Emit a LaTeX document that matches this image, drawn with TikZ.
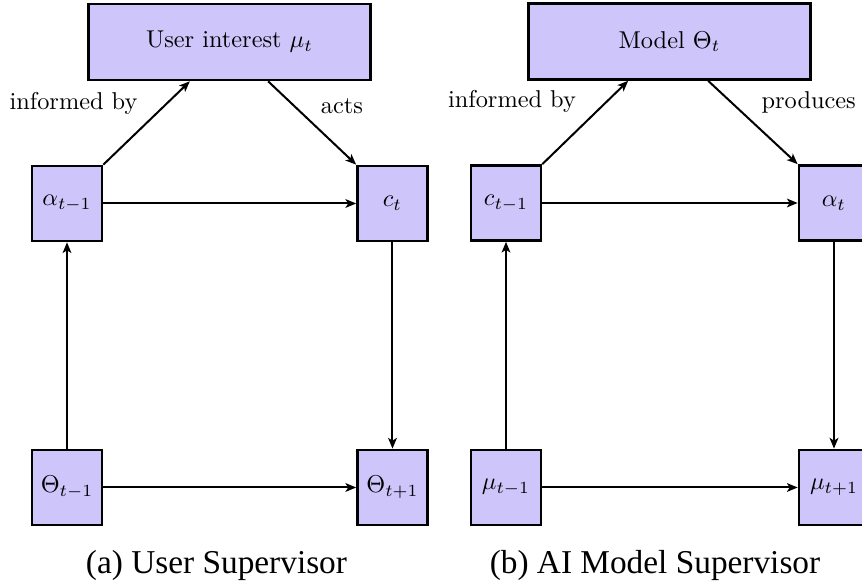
\documentclass[tikz,border=0pt]{standalone}
\usepackage{fontspec}
\usepackage{graphicx}
\newfontfamily\capfont{Liberation Serif}
\usetikzlibrary{arrows.meta}
\definecolor{boxfill}{RGB}{206,198,250}
\newcommand{\dtxt}[1]{\scalebox{0.73}{#1}}
\begin{document}
\begin{tikzpicture}[x=0.3pt,y=-0.3pt,
  every node/.style={font=\fontsize{10}{12}\selectfont},
  bx/.style={draw=black,line width=0.8pt,fill=boxfill,inner sep=0pt,minimum width=21pt,minimum height=22.5pt},
  topbx/.style={bx,minimum width=84.6pt,minimum height=22.8pt},
  arr/.style={line width=0.6pt,-{Stealth[length=3.2pt,width=2.6pt,inset=0.8pt]}},
  lbl/.style={inner sep=0pt},
  captext/.style={inner sep=0pt,font=\capfont\fontsize{10}{12}\selectfont}]
\useasboundingbox (0,0) rectangle (862,586);
% left diagram
\node[topbx] (ltop) at (229.5,42) {\dtxt{User interest $\mu_t$}};
\node[bx] (la) at (67,203.5) {\dtxt{$\alpha_{t-1}$}};
\node[bx] (lc) at (392.5,203.5) {\dtxt{$c_t$}};
\node[bx] (lth) at (67,487.5) {\dtxt{$\Theta_{t-1}$}};
\node[bx] (lthn) at (392.5,487.5) {\dtxt{$\Theta_{t+1}$}};
\draw[arr] (la.north east) -- ([xshift=-11.9pt]ltop.south);
\draw[arr] ([xshift=11.6pt]ltop.south) -- (lc.north west);
\draw[arr] (la) -- (lc);
\draw[arr] (lth) -- (la);
\draw[arr] (lc) -- (lthn);
\draw[arr] (lth) -- (lthn);
\node[lbl] (linf) at (73.5,103) {\dtxt{informed by}};
\node[lbl] (lacts) at (342,106) {\dtxt{acts}};
\node[captext] (lcap) at (216.5,566) {(a) User Supervisor};
% right diagram
\node[topbx] (rtop) at (669.5,41.5) {\dtxt{Model $\Theta_t$}};
\node[bx] (rc) at (506,203) {\dtxt{$c_{t-1}$}};
\node[bx] (ra) at (834,203) {\dtxt{$\alpha_t$}};
\node[bx] (rmu) at (506,487.5) {\dtxt{$\mu_{t-1}$}};
\node[bx] (rmun) at (834,487.5) {\dtxt{$\mu_{t+1}$}};
\draw[arr] (rc.north east) -- ([xshift=-12.4pt]rtop.south);
\draw[arr] ([xshift=11.6pt]rtop.south) -- (ra.north west);
\draw[arr] (rc) -- (ra);
\draw[arr] (rmu) -- (rc);
\draw[arr] (ra) -- (rmun);
\draw[arr] (rmu) -- (rmun);
\node[lbl] (rinf) at (512,101) {\dtxt{informed by}};
\node[lbl,anchor=west] (rprod) at (761,102) {\dtxt{produces}};
\node[captext] (rcap) at (655,566) {(b) AI Model Supervisor};
\end{tikzpicture}
\end{document}
